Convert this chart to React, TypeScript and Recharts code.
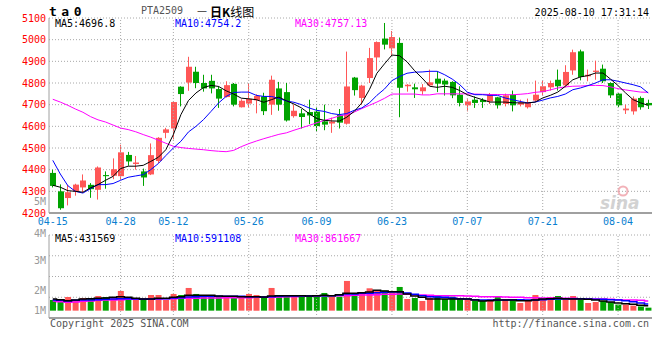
import { ComposedChart, Bar, Line, XAxis, YAxis, CartesianGrid, ReferenceLine, Cell } from "recharts";

// trading days 2025-04-15 .. 2025-08-08
const dates = [
  "04-15", "04-16", "04-17", "04-18", "04-21", "04-22", "04-23", "04-24", "04-25", "04-28",
  "04-29", "04-30", "05-06", "05-07", "05-08", "05-09", "05-12", "05-13", "05-14", "05-15",
  "05-16", "05-19", "05-20", "05-21", "05-22", "05-23", "05-26", "05-27", "05-28", "05-29",
  "05-30", "06-03", "06-04", "06-05", "06-06", "06-09", "06-10", "06-11", "06-12", "06-13",
  "06-16", "06-17", "06-18", "06-19", "06-20", "06-23", "06-24", "06-25", "06-26", "06-27",
  "06-30", "07-01", "07-02", "07-03", "07-04", "07-07", "07-08", "07-09", "07-10", "07-11",
  "07-14", "07-15", "07-16", "07-17", "07-18", "07-21", "07-22", "07-23", "07-24", "07-25",
  "07-28", "07-29", "07-30", "07-31", "08-01", "08-04", "08-05", "08-06", "08-07", "08-08",
];

const opens = [
  4385, 4300, 4269, 4300, 4318, 4330, 4307, 4375, 4372, 4370,
  4468, 4426, 4392, 4378, 4440, 4570, 4590, 4783, 4802, 4852,
  4800, 4810, 4772, 4735, 4796, 4688, 4705, 4720, 4738, 4700,
  4775, 4758, 4647, 4660, 4666, 4668, 4623, 4613, 4652, 4612,
  4825, 4731, 4823, 4918, 5005, 4960, 4985, 4785, 4780, 4762,
  4789, 4820, 4811, 4805, 4746, 4697, 4723, 4722, 4715, 4734,
  4703, 4746, 4700, 4688, 4719, 4758, 4780, 4815, 4789, 4858,
  4946, 4831, 4851, 4866, 4800, 4751, 4674, 4669, 4731, 4708,
];
const highs = [
  4400, 4332, 4330, 4335, 4378, 4338, 4415, 4392, 4452, 4515,
  4482, 4463, 4405, 4521, 4550, 4593, 4715, 4785, 4921, 4875,
  4838, 4838, 4785, 4808, 4800, 4725, 4800, 4748, 4755, 4834,
  4805, 4800, 4700, 4680, 4723, 4690, 4700, 4640, 4680, 4945,
  4828, 4792, 4962, 4992, 5077, 5040, 5010, 4795, 4797, 4795,
  4862, 4854, 4820, 4808, 4785, 4725, 4738, 4730, 4754, 4736,
  4751, 4765, 4723, 4728, 4811, 4811, 4811, 4862, 4882, 4954,
  4954, 4862, 4903, 4885, 4803, 4753, 4700, 4738, 4738, 4723,
];
const lows = [
  4318, 4215, 4235, 4280, 4295, 4270, 4262, 4312, 4356, 4352,
  4418, 4400, 4325, 4375, 4430, 4545, 4540, 4692, 4764, 4776,
  4760, 4752, 4685, 4733, 4692, 4687, 4686, 4660, 4652, 4653,
  4672, 4622, 4640, 4590, 4610, 4577, 4582, 4570, 4590, 4608,
  4742, 4700, 4800, 4857, 4955, 4928, 4642, 4760, 4731, 4746,
  4785, 4758, 4742, 4730, 4692, 4669, 4685, 4685, 4703, 4682,
  4692, 4669, 4692, 4682, 4712, 4743, 4765, 4765, 4780, 4838,
  4812, 4808, 4815, 4800, 4731, 4689, 4657, 4654, 4677, 4680,
];
const closes = [
  4325, 4222, 4296, 4331, 4350, 4310, 4410, 4370, 4402, 4480,
  4438, 4433, 4364, 4467, 4547, 4586, 4712, 4749, 4875, 4800,
  4775, 4775, 4728, 4790, 4700, 4718, 4727, 4740, 4670, 4815,
  4700, 4627, 4672, 4643, 4650, 4601, 4608, 4622, 4617, 4784,
  4767, 4788, 4915, 4989, 4977, 5012, 4778, 4792, 4771, 4780,
  4803, 4797, 4793, 4743, 4708, 4715, 4708, 4712, 4746, 4697,
  4743, 4697, 4711, 4708, 4746, 4785, 4800, 4785, 4851, 4942,
  4828, 4838, 4857, 4808, 4743, 4697, 4682, 4728, 4688, 4697,
];

const ma5 = [
  4328, 4319, 4303, 4300, 4296, 4316, 4331, 4351, 4369, 4405,
  4416, 4416, 4420, 4438, 4457, 4492, 4562, 4654, 4719, 4754,
  4779, 4789, 4784, 4764, 4749, 4730, 4727, 4723, 4711, 4723,
  4735, 4718, 4703, 4685, 4659, 4636, 4628, 4625, 4624, 4642,
  4669, 4708, 4769, 4845, 4888, 4929, 4926, 4898, 4857, 4823,
  4785, 4780, 4785, 4780, 4765, 4746, 4734, 4723, 4712, 4712,
  4712, 4709, 4708, 4708, 4712, 4731, 4743, 4758, 4785, 4815,
  4828, 4834, 4846, 4846, 4818, 4788, 4754, 4723, 4708, 4697,
];
const ma10 = [
  4443, 4380, 4326, 4300, 4292, 4312, 4331, 4331, 4336, 4351,
  4365, 4371, 4377, 4400, 4428, 4465, 4500, 4531, 4574, 4600,
  4631, 4669, 4708, 4738, 4756, 4758, 4758, 4743, 4738, 4738,
  4729, 4717, 4711, 4700, 4685, 4674, 4669, 4659, 4654, 4659,
  4674, 4685, 4708, 4743, 4772, 4811, 4830, 4845, 4850, 4851,
  4854, 4854, 4838, 4818, 4792, 4758, 4746, 4746, 4743, 4743,
  4731, 4723, 4715, 4708, 4712, 4721, 4731, 4738, 4749, 4769,
  4777, 4788, 4800, 4815, 4815, 4808, 4800, 4792, 4782, 4754,
];
const ma30 = [
  4725, 4712, 4697, 4680, 4665, 4645, 4630, 4620, 4606, 4592,
  4585, 4575, 4562, 4550, 4536, 4522, 4508, 4502, 4498, 4495,
  4492, 4488, 4485, 4483, 4489, 4506, 4520, 4532, 4543, 4553,
  4563, 4570, 4582, 4593, 4604, 4616, 4627, 4637, 4648, 4654,
  4666, 4682, 4697, 4712, 4729, 4749, 4749, 4749, 4749, 4745,
  4745, 4750, 4750, 4750, 4750, 4750, 4749, 4748, 4747, 4747,
  4746, 4746, 4748, 4751, 4757, 4760, 4768, 4777, 4782, 4785,
  4786, 4788, 4789, 4788, 4782, 4774, 4768, 4763, 4758, 4757,
];

const volumes = [
  960000, 960000, 1230000, 960000, 1140000, 1140000, 1320000, 1230000, 1230000, 1770000,
  960000, 960000, 1140000, 1410000, 1410000, 960000, 1500000, 1410000, 2040000, 1500000,
  1410000, 1320000, 1320000, 1260000, 1260000, 1260000, 1500000, 1410000, 1230000, 2040000,
  1350000, 1350000, 1260000, 1350000, 1410000, 1410000, 1590000, 1260000, 1260000, 2670000,
  1560000, 1560000, 2010000, 1800000, 1800000, 1620000, 2130000, 1050000, 1140000, 870000,
  1170000, 1350000, 1050000, 1260000, 1050000, 1050000, 900000, 900000, 1050000, 1260000,
  1050000, 1050000, 690000, 870000, 1410000, 1050000, 1230000, 1320000, 1050000, 1320000,
  1050000, 690000, 780000, 870000, 780000, 550000, 550000, 450000, 380000, 270000,
];
const volMa5 = [
  1050000, 990000, 900000, 960000, 1050000, 1080000, 1110000, 1140000, 1200000, 1260000,
  1200000, 1110000, 1050000, 1050000, 1110000, 1110000, 1200000, 1260000, 1380000, 1380000,
  1380000, 1380000, 1320000, 1290000, 1290000, 1260000, 1260000, 1260000, 1230000, 1320000,
  1350000, 1350000, 1350000, 1350000, 1320000, 1350000, 1380000, 1350000, 1440000, 1560000,
  1560000, 1620000, 1680000, 1830000, 1770000, 1710000, 1710000, 1500000, 1320000, 1200000,
  1050000, 1050000, 1050000, 1050000, 1050000, 1050000, 960000, 870000, 900000, 960000,
  960000, 960000, 900000, 900000, 960000, 1050000, 1080000, 1110000, 1080000, 1050000,
  1050000, 1020000, 960000, 870000, 780000, 690000, 630000, 570000, 480000, 431569,
];
const volMa10 = [
  960000, 930000, 870000, 930000, 960000, 960000, 990000, 1020000, 1050000, 1080000,
  1080000, 1050000, 1020000, 1050000, 1080000, 1080000, 1140000, 1170000, 1230000, 1260000,
  1290000, 1290000, 1290000, 1290000, 1290000, 1290000, 1260000, 1260000, 1230000, 1260000,
  1290000, 1320000, 1320000, 1320000, 1320000, 1350000, 1350000, 1350000, 1410000, 1500000,
  1500000, 1560000, 1560000, 1620000, 1650000, 1680000, 1680000, 1590000, 1470000, 1350000,
  1260000, 1230000, 1200000, 1140000, 1080000, 1050000, 990000, 960000, 960000, 960000,
  960000, 990000, 990000, 960000, 960000, 990000, 1020000, 1050000, 1050000, 1080000,
  1080000, 1050000, 1020000, 1020000, 990000, 960000, 900000, 810000, 690000, 591108,
];
const volMa30 = [
  870000, 810000, 750000, 780000, 840000, 870000, 930000, 960000, 960000, 990000,
  1020000, 1020000, 1020000, 1050000, 1050000, 1080000, 1080000, 1110000, 1110000, 1110000,
  1140000, 1140000, 1140000, 1170000, 1170000, 1170000, 1170000, 1200000, 1200000, 1200000,
  1230000, 1260000, 1260000, 1290000, 1290000, 1320000, 1350000, 1350000, 1350000, 1350000,
  1380000, 1410000, 1410000, 1440000, 1470000, 1470000, 1500000, 1470000, 1440000, 1410000,
  1380000, 1350000, 1350000, 1350000, 1350000, 1320000, 1290000, 1260000, 1260000, 1260000,
  1230000, 1200000, 1200000, 1170000, 1170000, 1140000, 1140000, 1140000, 1110000, 1110000,
  1080000, 1080000, 1050000, 1050000, 1020000, 990000, 960000, 960000, 930000, 861667,
];

const axisDates = ["04-15", "04-28", "05-12", "05-26", "06-09", "06-23", "07-07", "07-21", "08-04"];
const gridDates = ["04-28", "05-12", "05-26", "06-09", "06-23", "07-07", "07-21", "08-04"];
const priceTicks = [4200, 4300, 4400, 4500, 4600, 4700, 4800, 4900, 5000, 5100];
const volTicks = [-660000, 1205000, 3070000, 4935000, 6800000];
const volTickLabels = ["", "1M", "2M", "3M", "4M"];
const volTickShift = [0, 13, 14, 5, -2];

const RED = "#ff5757";
const GREEN = "#00a300";
const GRID = "#a8a8a8";
const FRAME = "#a0a0a0";
const MONO = "'DejaVu Sans Mono', monospace";

const rows = dates.map((date, i) => ({
  date,
  open: opens[i],
  high: highs[i],
  low: lows[i],
  close: closes[i],
  range: [lows[i], highs[i]],
  ma5: ma5[i],
  ma10: ma10[i],
  ma30: ma30[i],
  vol: volumes[i],
  vma5: volMa5[i],
  vma10: volMa10[i],
  vma30: volMa30[i],
}));

function Candle(props: any) {
  const { x, y, width, height, payload } = props;
  if (!payload) return null;
  const { open, close, high, low } = payload;
  const top = Math.min(y, y + height);
  const h = Math.abs(height);
  const k = high === low ? 0 : h / (high - low);
  const cx = Math.floor(x + width / 2);
  const color = close >= open ? RED : GREEN;
  const bodyTop = top + (high - Math.max(open, close)) * k;
  const bodyH = Math.max(1, Math.abs(open - close) * k);
  return (
    <g>
      <line x1={cx + 0.5} x2={cx + 0.5} y1={top} y2={top + h} stroke={color} strokeWidth={1} />
      <rect x={cx - 2} y={bodyTop} width={6} height={bodyH} fill={color} />
    </g>
  );
}

function VolTick(props: any) {
  const { x, y, index } = props;
  const label = volTickLabels[index];
  if (!label) return null;
  return (
    <text x={x} y={y + volTickShift[index]} textAnchor="end" dominantBaseline="central"
      fill="#999" fontSize={10} fontFamily={MONO}>
      {label}
    </text>
  );
}

export default function App() {
  return (
    <div style={{ position: "absolute", left: 0, top: 0, width: 660, height: 360, background: "#fff", overflow: "hidden", fontFamily: MONO }}>
      <div style={{ position: "absolute", left: 0, top: 0 }}>
        <ComposedChart width={660} height={228} data={rows} margin={{ top: 18, right: 8, left: 0, bottom: 0 }}>
          <CartesianGrid vertical={false} stroke={GRID} strokeDasharray="1 2" />
          {gridDates.map((d) => (
            <ReferenceLine key={d} x={d} stroke={GRID} strokeDasharray="1 2" />
          ))}
          <XAxis dataKey="date" ticks={axisDates} interval={0} tickLine={false} tickSize={0} tickMargin={5}
            height={15} tick={{ fill: "#0a7fd0", fontSize: 10, fontFamily: MONO }}
            axisLine={{ stroke: FRAME, strokeWidth: 2 }} />
          <YAxis domain={[4200, 5100]} ticks={priceTicks} interval={0} width={49} tickLine={false}
            tickSize={0} tickMargin={3} tick={{ fill: "#ff0000", fontSize: 10, fontFamily: MONO }}
            axisLine={{ stroke: FRAME }} allowDataOverflow />
          <YAxis yAxisId="frame" orientation="right" width={0} tick={false} tickLine={false}
            axisLine={{ stroke: FRAME, strokeWidth: 2 }} />
          <Bar dataKey="range" shape={<Candle />} isAnimationActive={false} />
          <Line dataKey="ma30" stroke="#ff00ff" strokeWidth={1} dot={false} type="linear" isAnimationActive={false} />
          <Line dataKey="ma10" stroke="#0000ff" strokeWidth={1} dot={false} type="linear" isAnimationActive={false} />
          <Line dataKey="ma5" stroke="#000000" strokeWidth={1} dot={false} type="linear" isAnimationActive={false} />
        </ComposedChart>
      </div>

      <div style={{ position: "absolute", left: 0, top: 220 }}>
        <ComposedChart width={660} height={99} data={rows} margin={{ top: 15, right: 8, left: 0, bottom: 0 }}>
          <CartesianGrid vertical={false} stroke={GRID} strokeDasharray="1 2" />
          {gridDates.map((d) => (
            <ReferenceLine key={d} x={d} stroke={GRID} strokeDasharray="1 2" />
          ))}
          <XAxis dataKey="date" tick={false} tickLine={false} height={1}
            axisLine={{ stroke: FRAME, strokeWidth: 2 }} />
          <YAxis domain={[-660000, 6800000]} ticks={volTicks} interval={0} width={49} tickLine={false}
            tickSize={0} tickMargin={3} tick={<VolTick />} axisLine={{ stroke: FRAME }} allowDataOverflow />
          <YAxis yAxisId="frame" orientation="right" width={0} tick={false} tickLine={false}
            axisLine={{ stroke: FRAME, strokeWidth: 2 }} />
          <Bar dataKey="vol" barSize={6} isAnimationActive={false}>
            {rows.map((r, i) => (
              <Cell key={i} fill={r.close >= r.open ? RED : GREEN} />
            ))}
          </Bar>
          <Line dataKey="vma30" stroke="#ff00ff" strokeWidth={1.5} dot={false} type="step" isAnimationActive={false} />
          <Line dataKey="vma10" stroke="#0000ff" strokeWidth={1.5} dot={false} type="step" isAnimationActive={false} />
          <Line dataKey="vma5" stroke="#000000" strokeWidth={1.5} dot={false} type="step" isAnimationActive={false} />
        </ComposedChart>
      </div>

      <svg width={660} height={360} style={{ position: "absolute", left: 0, top: 0, pointerEvents: "none" }}>
        <g fontFamily={MONO} fontSize={10} dominantBaseline="central">
          <text x={49} y={11} fontSize={13} fontWeight="bold" letterSpacing={4.5} fill="#000">ta0</text>
          <text x={141} y={10.5} fill="#555">PTA2509</text>
          <text x={197} y={10.5} fill="#333" fontFamily="'DejaVu Sans', sans-serif">—</text>
          <text x={210} y={10.5} fontSize={12} fill="#000" fontFamily="'Noto Sans CJK SC', sans-serif">
            <tspan fontWeight="bold">日K</tspan>
            <tspan>线图</tspan>
          </text>
          <text x={649} y={12} textAnchor="end" fill="#000">2025-08-10 17:31:14</text>

          <text x={55} y={23.5} fill="#000">MA5:4696.8</text>
          <text x={175} y={23.5} fill="#0000ff">MA10:4754.2</text>
          <text x={295} y={23.5} fill="#ff00ff">MA30:4757.13</text>
          <text x={46} y={201} textAnchor="end" fill="#999">5M</text>

          <text x={55} y={238} fill="#000">MA5:431569</text>
          <text x={175} y={238} fill="#0000ff">MA10:591108</text>
          <text x={295} y={238} fill="#ff00ff">MA30:861667</text>

          <text x={50} y={323.5} fill="#555">Copyright 2025 SINA.COM</text>
          <text x={649} y={323.5} textAnchor="end" fill="#555">http://finance.sina.com.cn</text>
        </g>
        <g opacity={0.8}>
          <circle cx={623} cy={191} r={4.5} fill="none" stroke="#f0a0a8" strokeWidth={2} />
          <text x={600} y={209} fontSize={17} fontWeight="bold" fontStyle="italic" fill="#c8c8c8"
            fontFamily="'DejaVu Sans', sans-serif">sina</text>
        </g>
      </svg>
    </div>
  );
}
